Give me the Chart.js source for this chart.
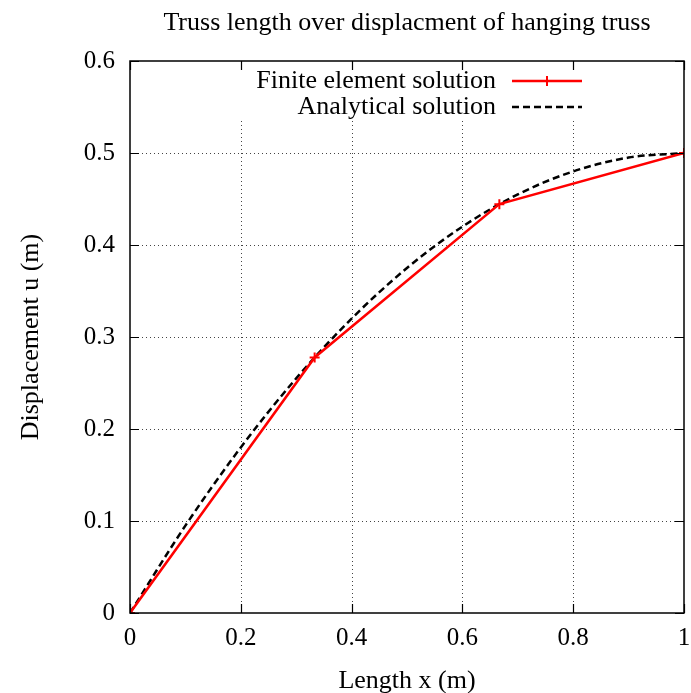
<!DOCTYPE html>
<html>
<head>
<meta charset="utf-8">
<script src="https://cdn.jsdelivr.net/npm/chart.js@4/dist/chart.umd.min.js"></script>
<style>
  html, body { margin: 0; padding: 0; background: #fff; }
  #wrap { width: 691px; height: 693px; }
</style>
</head>
<body>
<div id="wrap"><canvas id="grafico"></canvas></div>
<script>
// valores
let xFem = [0, 0.3333, 0.6667, 1];
let uFem = [0, 0.2778, 0.4444, 0.5];

let xAnalitico = [0, 0.1, 0.2, 0.3, 0.4, 0.5, 0.6, 0.7, 0.8, 0.9, 1];
let uAnalitico = [0, 0.095, 0.18, 0.255, 0.32, 0.375, 0.42, 0.455, 0.48, 0.495, 0.5];

let xTicks = [0, 0.2, 0.4, 0.6, 0.8, 1];
let yTicks = [0, 0.1, 0.2, 0.3, 0.4, 0.5, 0.6];

let titulo = 'Truss length over displacment of hanging truss';

const fonte = '"Liberation Serif", "DejaVu Serif", serif';
Chart.defaults.font.family = fonte;
Chart.defaults.color = '#000';

function pontos(xs, ys) {
    return xs.map((x, i) => ({ x: x, y: ys[i] }));
}

function rotulo(v) {
    return v === 0 ? '0' : (v === 1 ? '1' : v.toFixed(1));
}

// grade pontilhada, moldura, ticks para dentro e legenda no estilo gnuplot
const molduraGnuplot = {
    id: 'molduraGnuplot',
    beforeDatasetsDraw(chart) {
        const { ctx, chartArea: a, scales } = chart;
        ctx.save();
        ctx.strokeStyle = '#444';
        ctx.lineWidth = 1;
        ctx.setLineDash([1, 3]);
        xTicks.slice(1, -1).forEach(v => {
            const px = Math.round(scales.x.getPixelForValue(v)) + 0.5;
            ctx.beginPath(); ctx.moveTo(px, a.top); ctx.lineTo(px, a.bottom); ctx.stroke();
        });
        yTicks.slice(1, -1).forEach(v => {
            const py = Math.round(scales.y.getPixelForValue(v)) + 0.5;
            ctx.beginPath(); ctx.moveTo(a.left, py); ctx.lineTo(a.right, py); ctx.stroke();
        });
        ctx.restore();
    },
    afterDatasetsDraw(chart) {
        const { ctx, chartArea: a, scales } = chart;
        const ds = chart.data.datasets;
        ctx.save();

        // titulo centrado sobre a area do grafico
        ctx.fillStyle = '#000';
        ctx.font = '26px ' + fonte;
        ctx.textAlign = 'center';
        ctx.textBaseline = 'middle';
        ctx.fillText(titulo, (a.left + a.right) / 2, 23);

        // caixa da legenda (opaca)
        const lx0 = 232, lx1 = 588, ly0 = a.top + 1, ly1 = a.top + 57;
        ctx.fillStyle = '#fff';
        ctx.fillRect(lx0, ly0, lx1 - lx0, ly1 - ly0);

        // moldura
        ctx.strokeStyle = '#000';
        ctx.lineWidth = 1.5;
        ctx.strokeRect(a.left, a.top, a.right - a.left, a.bottom - a.top);

        // ticks para dentro nos quatro lados
        const t = 9;
        ctx.lineWidth = 1.2;
        xTicks.forEach(v => {
            const px = Math.round(scales.x.getPixelForValue(v)) + 0.5;
            ctx.beginPath();
            ctx.moveTo(px, a.bottom); ctx.lineTo(px, a.bottom - t);
            ctx.moveTo(px, a.top); ctx.lineTo(px, a.top + t);
            ctx.stroke();
        });
        yTicks.forEach(v => {
            const py = Math.round(scales.y.getPixelForValue(v)) + 0.5;
            ctx.beginPath();
            ctx.moveTo(a.left, py); ctx.lineTo(a.left + t, py);
            ctx.moveTo(a.right, py); ctx.lineTo(a.right - t, py);
            ctx.stroke();
        });

        // legenda
        ctx.font = '26px ' + fonte;
        ctx.textAlign = 'right';
        ctx.textBaseline = 'middle';
        const linhas = [a.top + 20, a.top + 46];
        ds.forEach((d, i) => {
            const y = linhas[i];
            ctx.fillStyle = '#000';
            ctx.fillText(d.label, 496, y);
            ctx.strokeStyle = d.borderColor;
            ctx.lineWidth = d.borderWidth;
            ctx.setLineDash(d.borderDash || []);
            ctx.beginPath(); ctx.moveTo(512, y); ctx.lineTo(582, y); ctx.stroke();
            ctx.setLineDash([]);
            if (d.pointRadius > 0) {
                const r = d.pointRadius, cx = 547;
                ctx.lineWidth = d.pointBorderWidth;
                ctx.beginPath();
                ctx.moveTo(cx - r, y); ctx.lineTo(cx + r, y);
                ctx.moveTo(cx, y - r); ctx.lineTo(cx, y + r);
                ctx.stroke();
            }
        });
        ctx.restore();
    }
};

new Chart(document.getElementById('grafico'), {
    type: 'line',
    data: {
        datasets: [{
            label: 'Finite element solution',
            data: pontos(xFem, uFem),
            borderColor: '#ff0000',
            backgroundColor: '#ff0000',
            borderWidth: 2.5,
            pointStyle: 'cross',
            pointRadius: 5,
            pointBorderWidth: 2,
            pointBorderColor: '#ff0000',
            order: 0
        }, {
            label: 'Analytical solution',
            data: pontos(xAnalitico, uAnalitico),
            borderColor: '#000',
            borderWidth: 2.5,
            borderDash: [7, 4],
            pointRadius: 0,
            cubicInterpolationMode: 'monotone',
            order: 1
        }]
    },
    options: {
        responsive: true,
        maintainAspectRatio: false,
        animation: false,
        events: [],
        layout: { padding: { left: 0, right: 6, top: 61, bottom: 0 } },
        plugins: {
            legend: { display: false },
            tooltip: { enabled: false },
            title: { display: false }
        },
        scales: {
            x: {
                type: 'linear',
                min: 0, max: 1,
                afterBuildTicks: s => { s.ticks = xTicks.map(v => ({ value: v })); },
                afterFit: s => { s.height = 80; s.paddingLeft = 0; s.paddingRight = 0; },
                grid: { display: false },
                border: { display: false },
                ticks: { font: { size: 25 }, padding: 2, callback: v => rotulo(v), maxRotation: 0 },
                title: { display: true, text: 'Length x (m)', font: { size: 26 }, padding: { top: 0, bottom: -4 } }
            },
            y: {
                type: 'linear',
                min: 0, max: 0.6,
                afterBuildTicks: s => { s.ticks = yTicks.map(v => ({ value: v })); },
                afterFit: s => { s.width = 130; s.paddingTop = 0; s.paddingBottom = 0; },
                grid: { display: false },
                border: { display: false },
                ticks: { font: { size: 25 }, padding: 7, callback: v => rotulo(v) },
                title: { display: true, text: 'Displacement u (m)', font: { size: 26 }, padding: { top: 16, bottom: 0 } }
            }
        }
    },
    plugins: [molduraGnuplot]
});
</script>
</body>
</html>
